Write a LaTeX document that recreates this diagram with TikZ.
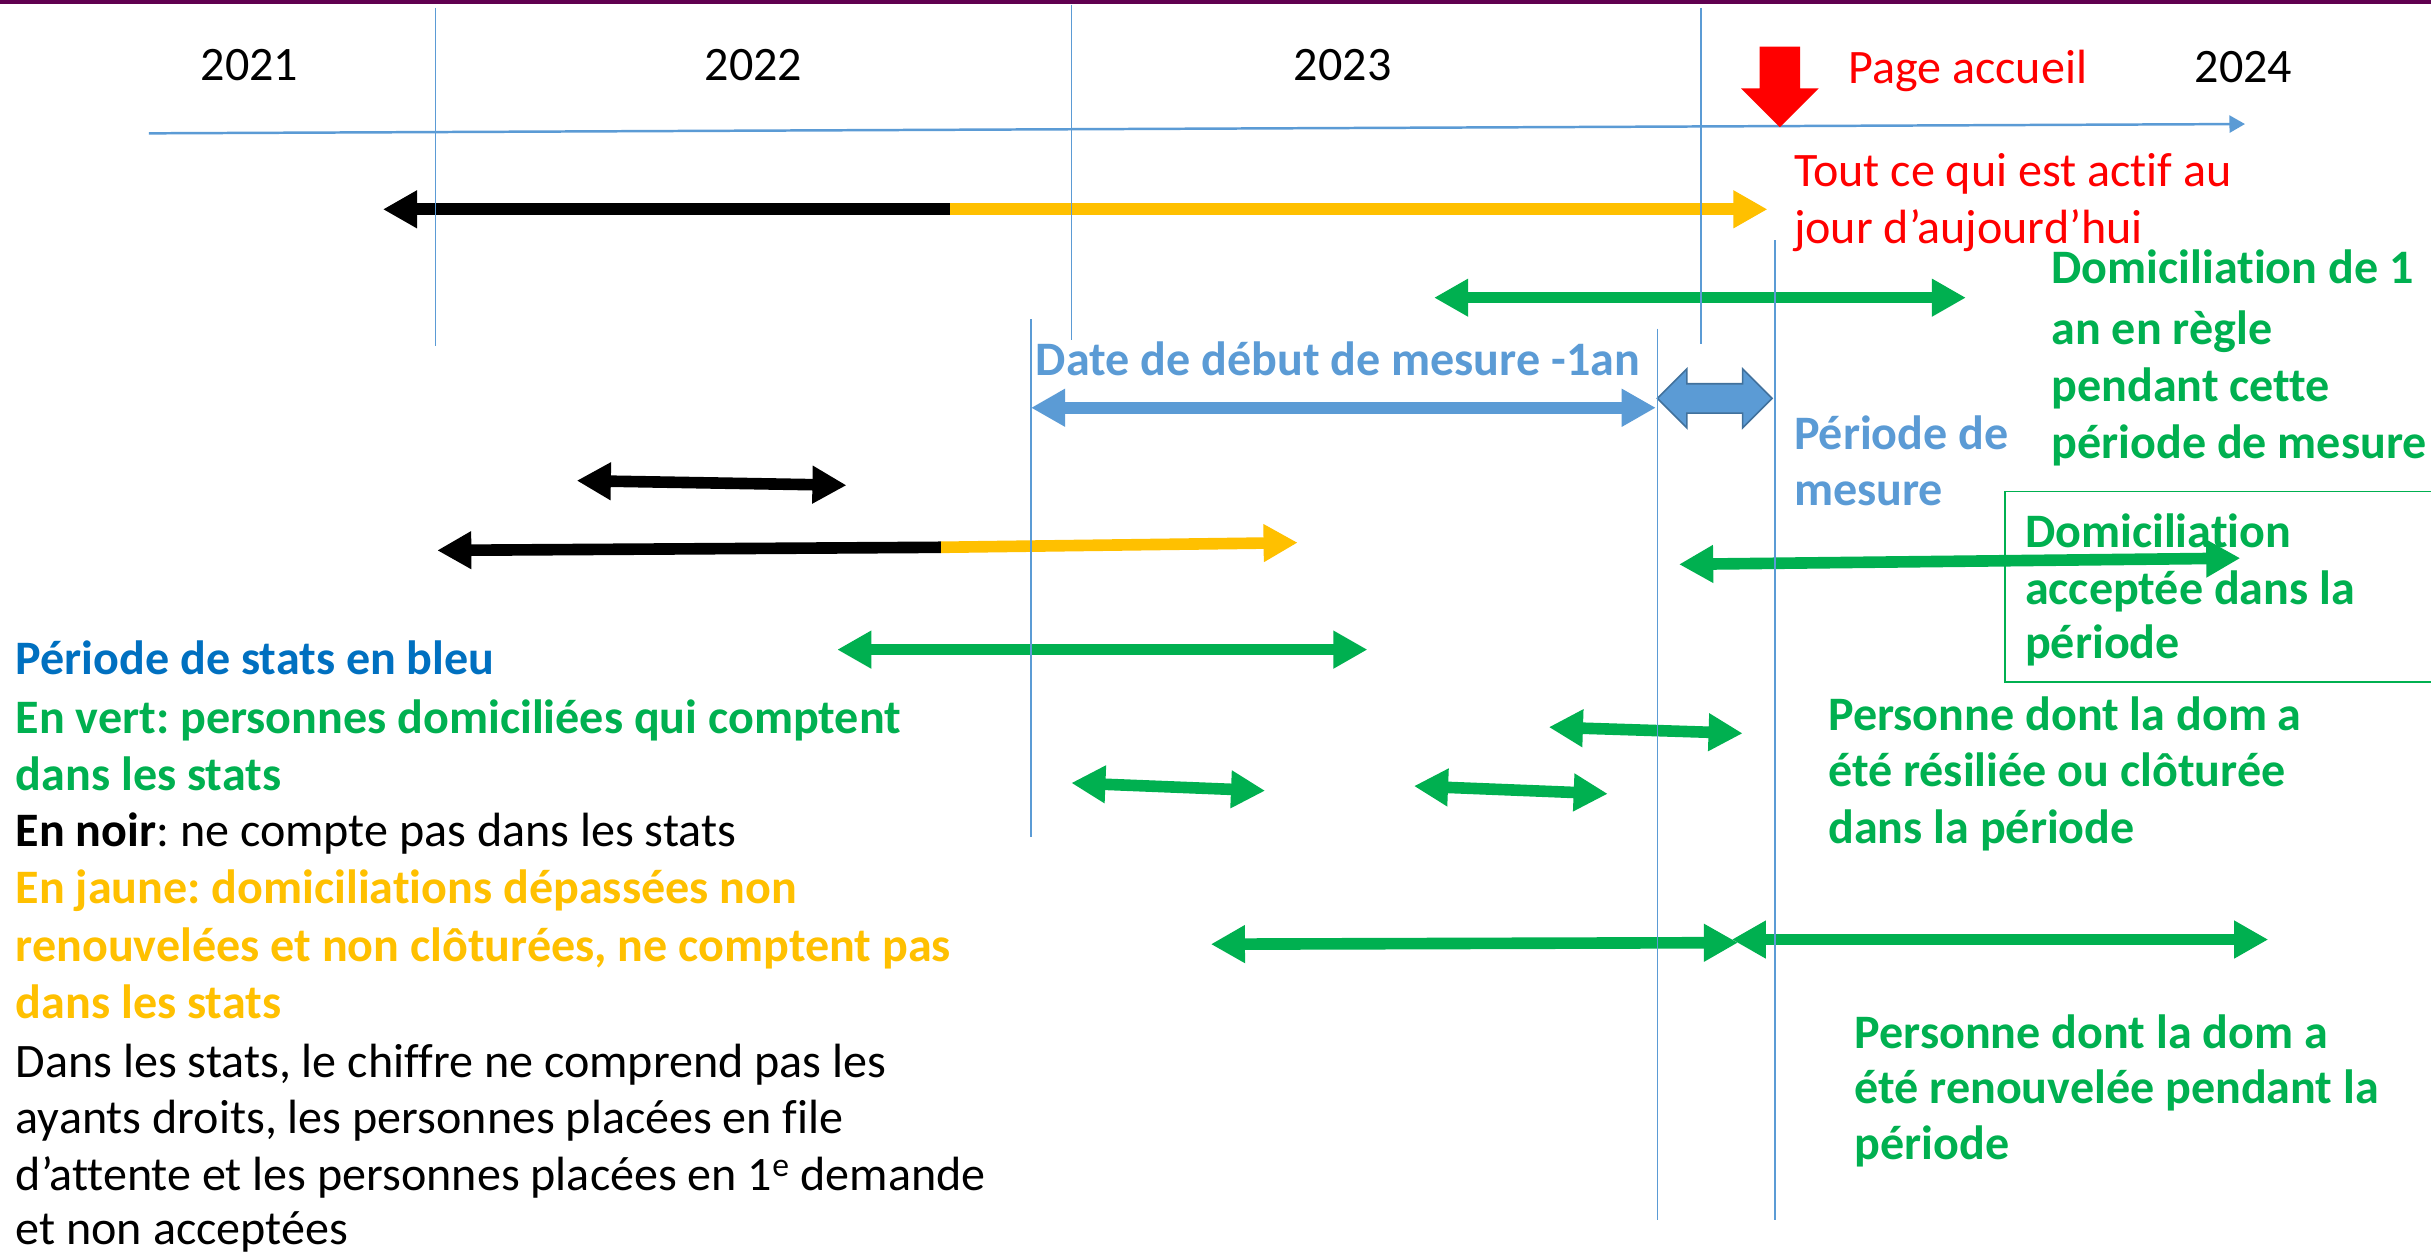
\documentclass[tikz,border=0pt]{standalone}
\usepackage{fontspec}
\setmainfont{Carlito}[Ligatures=NoCommon]
\usetikzlibrary{arrows.meta}
\definecolor{oblue}{HTML}{5B9BD5}
\definecolor{oblueline}{HTML}{41719C}
\definecolor{ogreen}{HTML}{00B050}
\definecolor{oyellow}{HTML}{FFC000}
\definecolor{odarkblue}{HTML}{0070C0}
\definecolor{ored}{HTML}{FF0000}
\definecolor{opurple}{HTML}{600050}
\frenchspacing
\begin{document}
\begin{tikzpicture}[x=1pt,y=-1pt,
  txt/.style={anchor=base west, inner sep=0pt, font=\fontsize{31}{37}\selectfont},
  txtb/.style={anchor=base west, inner sep=0pt, font=\fontsize{31}{37}\selectfont\bfseries},
  yr/.style={anchor=base, inner sep=0pt, font=\fontsize{31}{37}\selectfont},
  vline/.style={draw=oblue, line width=1pt},
  tipA/.tip={Triangle[length=22pt,width=23pt]},
  dbl/.style={line width=7.5pt, tipA-tipA},
  sgl/.style={line width=7.5pt, -tipA},
]
\useasboundingbox (0,0) rectangle (1568,809);
\clip (0,0) rectangle (1568,809);
\fill[white] (0,0) rectangle (1568,809);
\fill[opurple] (0,0) rectangle (1568,2.5);

% axis
\coordinate (axL) at (96,86);
\coordinate (axR) at (1448,80);
\draw[oblue, line width=1.6pt, -{Triangle[length=10pt,width=11pt]}] (axL) -- (axR);

% years
\node[yr] (y21) at (161,52) {2021};
\node[yr] (y22) at (486,52) {2022};
\node[yr] (y23) at (866,52) {2023};
\node[yr] (y24) at (1447,53) {2024};

% red marker arrow
\coordinate (today) at (1148,82);
\fill[ored] (1135,30) -- (1161,30) -- (1161,57) -- (1173,57) -- (today) -- (1123,57) -- (1135,57) -- cycle;
\node[txt, text=ored] (page) at (1192,54) {Page accueil};
\node[txt, text=ored] (actif1) at (1157,120) {Tout ce qui est actif au};
\node[txt, text=ored] (actif2) at (1157,157) {jour d’aujourd’hui};

% green texts right
\node[txtb, text=ogreen] (d1) at (1323,183) {Domiciliation de 1};
\node[txtb, text=ogreen] (d2) at (1323,222) {an en règle};
\node[txtb, text=ogreen] (d3) at (1323,259) {pendant cette};
\node[txtb, text=ogreen] (d4) at (1323,296) {période de mesure};

\node[txtb, text=oblue] (debut) at (668,242) {Date de début de mesure -1an};
\node[txtb, text=oblue] (pm1) at (1157,290) {Période de};
\node[txtb, text=oblue] (pm2) at (1157,326) {mesure};

% box
\draw[ogreen, line width=1.2pt] (1293,317) rectangle (1590,440);
\node[txtb, text=ogreen] (b1) at (1306,353) {Domiciliation};
\node[txtb, text=ogreen] (b2) at (1306,390) {acceptée dans la};
\node[txtb, text=ogreen] (b3) at (1306,425) {période};

\node[txtb, text=ogreen] (r1) at (1179,471) {Personne dont la dom a};
\node[txtb, text=ogreen] (r2) at (1179,507) {été résiliée ou clôturée};
\node[txtb, text=ogreen] (r3) at (1179,544) {dans la période};

\node[txtb, text=ogreen] (n1) at (1196,676) {Personne dont la dom a};
\node[txtb, text=ogreen] (n2) at (1196,712) {été renouvelée pendant la};
\node[txtb, text=ogreen] (n3) at (1196,748) {période};

% left legend
\node[txtb, text=odarkblue] (l1) at (10,435) {Période de stats en bleu};
\node[txtb, text=ogreen] (l2) at (10,473) {En vert: personnes domiciliées qui comptent};
\node[txtb, text=ogreen] (l3) at (10,510) {dans les stats};
\node[txt] (l4) at (10,546) {\textbf{En noir}: ne compte pas dans les stats};
\node[txtb, text=oyellow] (l5) at (10,583) {En jaune: domiciliations dépassées non};
\node[txtb, text=oyellow] (l6) at (10,620) {renouvelées et non clôturées, ne comptent pas};
\node[txtb, text=oyellow] (l7) at (10,657) {dans les stats};
\node[txt] (l8) at (10,695) {Dans les stats, le chiffre ne comprend pas les};
\node[txt] (l9) at (10,731) {ayants droits, les personnes placées en file};
\node[txt] (l10) at (10,768) {d’attente et les personnes placées en 1\textsuperscript{e} demande};
\node[txt] (l11) at (10,803) {et non acceptées};

% arrows
\coordinate (a1l) at (247,135); \coordinate (a1m) at (613,135); \coordinate (a1r) at (1140,135);
\draw[sgl, black] (a1m) -- (a1l);
\draw[sgl, oyellow] (a1m) -- (a1r);

\coordinate (a2l) at (925,192); \coordinate (a2r) at (1268,192);
\draw[dbl, ogreen] (a2l) -- (a2r);

\coordinate (a3l) at (665,263); \coordinate (a3r) at (1068,263);
\draw[dbl, oblue] (a3l) -- (a3r);

% block double arrow
\filldraw[fill=oblue, draw=oblueline, line width=1pt]
  (1069,257) -- (1088,238) -- (1088,247.5) -- (1124,247.5) -- (1124,238) -- (1143,257)
  -- (1124,276) -- (1124,266.5) -- (1088,266.5) -- (1088,276) -- cycle;

\coordinate (a4l) at (372,310); \coordinate (a4r) at (546,313);
\draw[dbl, black] (a4l) -- (a4r);

\coordinate (a5l) at (282,355); \coordinate (a5m) at (607,353); \coordinate (a5r) at (837,350);
\draw[sgl, black] (a5m) -- (a5l);
\draw[sgl, oyellow] (a5m) -- (a5r);

\coordinate (a6l) at (1083,364); \coordinate (a6r) at (1445,360);
\draw[dbl, ogreen] (a6l) -- (a6r);

\coordinate (a7l) at (540,419); \coordinate (a7r) at (882,419);
\draw[dbl, ogreen] (a7l) -- (a7r);

\coordinate (a8l) at (999,469); \coordinate (a8r) at (1124,473);
\draw[dbl, ogreen] (a8l) -- (a8r);

\coordinate (a9l) at (691,505); \coordinate (a9r) at (816,510);
\draw[dbl, ogreen] (a9l) -- (a9r);

\coordinate (a10l) at (912,507); \coordinate (a10r) at (1037,512);
\draw[dbl, ogreen] (a10l) -- (a10r);

\coordinate (a11l) at (781,609); \coordinate (a11r) at (1121,608);
\draw[dbl, ogreen] (a11l) -- (a11r);

\coordinate (a12l) at (1117,606); \coordinate (a12r) at (1463,606);
\draw[dbl, ogreen] (a12l) -- (a12r);

% vertical guide lines
\draw[vline] (281,5) -- (281,223);
\draw[vline] (691,3) -- (691,219);
\draw[vline] (665,206) -- (665,540);
\draw[vline] (1097,5) -- (1097,222);
\draw[vline] (1069,212) -- (1069,787);
\draw[vline] (1145,155) -- (1145,787);
\end{tikzpicture}
\end{document}
